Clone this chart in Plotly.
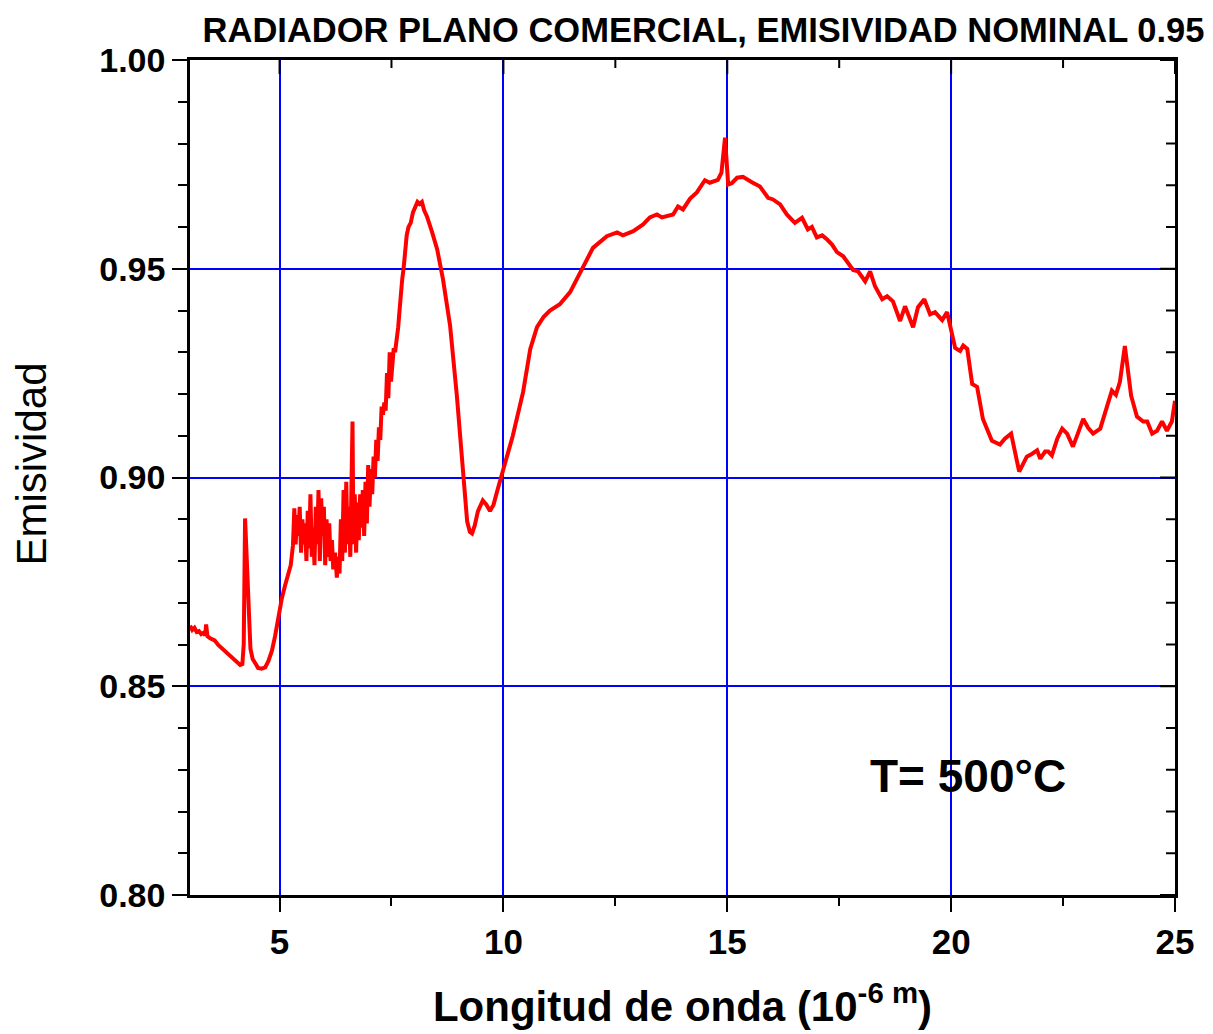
import plotly.graph_objects as go

# Wavelength (10^-6 m) and emissivity
wavelength = [
    3.00, 3.05, 3.10, 3.15, 3.20, 3.25, 3.30, 3.34, 3.36, 3.39, 3.45, 3.55, 3.63, 3.72,
    3.85, 3.95, 4.05, 4.12, 4.17, 4.20, 4.23, 4.26, 4.30, 4.35, 4.40, 4.52, 4.60, 4.68,
    4.75, 4.83, 4.90, 4.97, 5.05, 5.12, 5.19, 5.25, 5.30, 5.33, 5.36, 5.39, 5.42, 5.45,
    5.48, 5.51, 5.54, 5.57, 5.60, 5.63, 5.66, 5.69, 5.72, 5.75, 5.78, 5.81, 5.84, 5.87,
    5.90, 5.93, 5.96, 5.99, 6.02, 6.05, 6.08, 6.11, 6.14, 6.17, 6.20, 6.24, 6.28, 6.31,
    6.34, 6.37, 6.40, 6.43, 6.46, 6.49, 6.52, 6.55, 6.58, 6.61, 6.63, 6.65, 6.68, 6.71,
    6.74, 6.77, 6.80, 6.83, 6.86, 6.89, 6.92, 6.95, 6.98, 7.01, 7.04, 7.07, 7.10, 7.13,
    7.16, 7.19, 7.22, 7.25, 7.28, 7.31, 7.34, 7.37, 7.40, 7.43, 7.46, 7.49, 7.52, 7.55,
    7.58, 7.62, 7.65, 7.68, 7.71, 7.74, 7.77, 7.80, 7.84, 7.88, 7.93, 7.98, 8.03, 8.08,
    8.13, 8.18, 8.23, 8.29, 8.40, 8.52, 8.65, 8.81, 8.96, 9.10, 9.19, 9.25, 9.30, 9.36,
    9.43, 9.54, 9.62, 9.70, 9.78, 9.86, 10.00, 10.21, 10.44, 10.60, 10.75, 10.90, 11.04,
    11.26, 11.49, 11.76, 12.00, 12.31, 12.54, 12.67, 12.90, 13.12, 13.27, 13.43, 13.54,
    13.79, 13.90, 14.01, 14.17, 14.32, 14.50, 14.61, 14.79, 14.87, 14.95, 15.02, 15.10,
    15.22, 15.35, 15.55, 15.73, 15.91, 16.02, 16.18, 16.33, 16.51, 16.67, 16.80, 16.89,
    17.00, 17.12, 17.23, 17.34, 17.45, 17.59, 17.81, 17.92, 18.08, 18.19, 18.30, 18.46,
    18.57, 18.70, 18.86, 18.97, 19.15, 19.26, 19.40, 19.53, 19.64, 19.80, 19.91, 20.00,
    20.09, 20.20, 20.27, 20.36, 20.47, 20.58, 20.71, 20.91, 21.09, 21.20, 21.34, 21.52,
    21.69, 21.81, 21.92, 21.99, 22.10, 22.17, 22.25, 22.37, 22.48, 22.59, 22.72, 22.83,
    22.95, 23.06, 23.17, 23.33, 23.39, 23.48, 23.59, 23.68, 23.77, 23.88, 23.95, 24.02,
    24.15, 24.29, 24.38, 24.49, 24.60, 24.71, 24.82, 24.93, 25.00,
]
emissivity = [
    0.8645, 0.8635, 0.8640, 0.8630, 0.8632, 0.8625, 0.8628, 0.8622, 0.8648, 0.8620, 0.8615, 0.8610, 0.8599, 0.8590,
    0.8575, 0.8565, 0.8558, 0.8551, 0.8553, 0.8600, 0.8902, 0.8820, 0.8680, 0.8590, 0.8565, 0.8544, 0.8542, 0.8545,
    0.8560, 0.8585, 0.8620, 0.8664, 0.8710, 0.8740, 0.8766, 0.8790, 0.8838, 0.8926, 0.8840, 0.8910, 0.8860, 0.8930,
    0.8820, 0.8900, 0.8840, 0.8890, 0.8800, 0.8920, 0.8830, 0.8960, 0.8810, 0.8880, 0.8790, 0.8930, 0.8840, 0.8970,
    0.8800, 0.8950, 0.8860, 0.8930, 0.8790, 0.8900, 0.8810, 0.8890, 0.8800, 0.8850, 0.8780, 0.8820, 0.8760, 0.8810,
    0.8770, 0.8900, 0.8800, 0.8970, 0.8820, 0.8990, 0.8840, 0.8930, 0.8810, 0.8950, 0.9134, 0.8840, 0.8960, 0.8820,
    0.8940, 0.8850, 0.8960, 0.8880, 0.8970, 0.8860, 0.8990, 0.8890, 0.9030, 0.8930, 0.9020, 0.8960, 0.9050, 0.9000,
    0.9090, 0.9040, 0.9120, 0.9090, 0.9170, 0.9150, 0.9180, 0.9160, 0.9250, 0.9190, 0.9300, 0.9230, 0.9280, 0.9310,
    0.9300, 0.9330, 0.9360, 0.9400, 0.9450, 0.9475, 0.9500, 0.9540, 0.9580, 0.9600, 0.9610, 0.9635, 0.9650, 0.9660,
    0.9655, 0.9660, 0.9640, 0.9626, 0.9590, 0.9547, 0.9475, 0.9363, 0.9196, 0.9014, 0.8895, 0.8870, 0.8866, 0.8885,
    0.8919, 0.8945, 0.8935, 0.8920, 0.8935, 0.8967, 0.9020, 0.9100, 0.9205, 0.9308, 0.9360, 0.9385, 0.9400,
    0.9415, 0.9444, 0.9499, 0.9550, 0.9578, 0.9587, 0.9580, 0.9590, 0.9606, 0.9623, 0.9630, 0.9623,
    0.9630, 0.9649, 0.9642, 0.9668, 0.9683, 0.9712, 0.9706, 0.9713, 0.9730, 0.9814, 0.9702, 0.9705,
    0.9718, 0.9720, 0.9707, 0.9697, 0.9670, 0.9666, 0.9654, 0.9630, 0.9610, 0.9622, 0.9594, 0.9600,
    0.9575, 0.9580, 0.9570, 0.9558, 0.9540, 0.9530, 0.9497, 0.9494, 0.9470, 0.9494, 0.9458, 0.9427,
    0.9434, 0.9422, 0.9375, 0.9410, 0.9360, 0.9408, 0.9427, 0.9391, 0.9396, 0.9377, 0.9396, 0.9356,
    0.9310, 0.9303, 0.9316, 0.9308, 0.9224, 0.9217, 0.9140, 0.9088, 0.9079, 0.9093, 0.9105, 0.9014,
    0.9050, 0.9057, 0.9065, 0.9045, 0.9062, 0.9062, 0.9053, 0.9093, 0.9117, 0.9105, 0.9074, 0.9105,
    0.9140, 0.9119, 0.9105, 0.9117, 0.9140, 0.9172, 0.9208, 0.9198, 0.9229, 0.9315, 0.9255, 0.9196,
    0.9146, 0.9134, 0.9134, 0.9105, 0.9112, 0.9134, 0.9112, 0.9134, 0.9184,
]

x_range = [3, 25]
y_range = [0.80, 1.00]
x_ticks = [5, 10, 15, 20, 25]
x_minor_ticks = [7.5, 12.5, 17.5, 22.5]
y_ticks = [0.80, 0.85, 0.90, 0.95, 1.00]
y_tick_labels = ["0.80", "0.85", "0.90", "0.95", "1.00"]
y_minor_ticks = [0.81, 0.82, 0.83, 0.84, 0.86, 0.87, 0.88, 0.89, 0.91, 0.92, 0.93, 0.94,
                 0.96, 0.97, 0.98, 0.99]

title_text = "RADIADOR PLANO COMERCIAL, EMISIVIDAD NOMINAL 0.95"
x_title = "Longitud de onda (10<sup>-6 m</sup>)"
y_title = "Emisividad"
note_text = "T= 500°C"
note_x, note_y = 20.38, 0.8286

FONT = "Liberation Sans, Arial, sans-serif"
BLUE = "#0000ff"

fig = go.Figure()
fig.add_trace(go.Scatter(
    x=wavelength, y=emissivity, mode="lines",
    line=dict(color="#ff0000", width=4), showlegend=False, hoverinfo="x+y",
))

# inside ticks on the top and right frame edges (mirrored axes)
shapes = []
for v in x_ticks:
    shapes.append(dict(type="line", xref="x", yref="y", ysizemode="pixel", yanchor=y_range[1],
                       x0=v, x1=v, y0=0, y1=-14, line=dict(color="black", width=2)))
for v in x_minor_ticks:
    shapes.append(dict(type="line", xref="x", yref="y", ysizemode="pixel", yanchor=y_range[1],
                       x0=v, x1=v, y0=0, y1=-8, line=dict(color="black", width=2)))
for v in y_ticks:
    shapes.append(dict(type="line", xref="x", yref="y", xsizemode="pixel", xanchor=x_range[1],
                       y0=v, y1=v, x0=0, x1=-15, line=dict(color="black", width=2)))
for v in y_minor_ticks:
    shapes.append(dict(type="line", xref="x", yref="y", xsizemode="pixel", xanchor=x_range[1],
                       y0=v, y1=v, x0=0, x1=-9, line=dict(color="black", width=2)))

fig.update_layout(
    width=1213, height=1034,
    margin=dict(l=190, r=38, t=60, b=136),
    paper_bgcolor="white", plot_bgcolor="white",
    font=dict(family=FONT, color="black"),
    title=dict(
        text=title_text, x=0.58, xref="container", xanchor="center",
        y=1 - 30 / 1034, yref="container", yanchor="middle",
        font=dict(size=34.5, weight="bold", family=FONT, color="black"),
    ),
    xaxis=dict(
        range=x_range, tickvals=x_ticks, ticks="outside", ticklen=14, tickwidth=2,
        tickcolor="black", showline=True, mirror=True, linecolor="black", linewidth=2.5,
        showgrid=True, gridcolor=BLUE, gridwidth=1.5, zeroline=False,
        tickfont=dict(size=35, weight="bold", family=FONT),
        minor=dict(tickvals=x_minor_ticks, ticks="outside", ticklen=8, tickwidth=2,
                   tickcolor="black", showgrid=False),
        title=dict(text=x_title, font=dict(size=42, weight="bold", family=FONT), standoff=32),
    ),
    yaxis=dict(
        range=y_range, tickvals=y_ticks, ticktext=y_tick_labels, ticks="outside",
        ticklen=15, tickwidth=2, tickcolor="black", showline=True, mirror=True,
        linecolor="black", linewidth=2.5, showgrid=True, gridcolor=BLUE, gridwidth=1.5,
        zeroline=False, tickfont=dict(size=34, weight="bold", family=FONT),
        minor=dict(tickvals=y_minor_ticks, ticks="outside", ticklen=9, tickwidth=2,
                   tickcolor="black", showgrid=False),
    ),
    shapes=shapes,
    annotations=[
        dict(
            x=note_x, y=note_y, xref="x", yref="y", text=note_text, showarrow=False,
            font=dict(size=46, weight="bold", family=FONT, color="black"),
            xanchor="center", yanchor="middle",
        ),
        dict(
            x=-0.1604, y=0.5155, xref="paper", yref="paper", text=y_title,
            showarrow=False, textangle=-90, xanchor="center", yanchor="middle",
            font=dict(size=42, family=FONT, color="black"),
        ),
    ],
)

fig.write_html("out.html")
